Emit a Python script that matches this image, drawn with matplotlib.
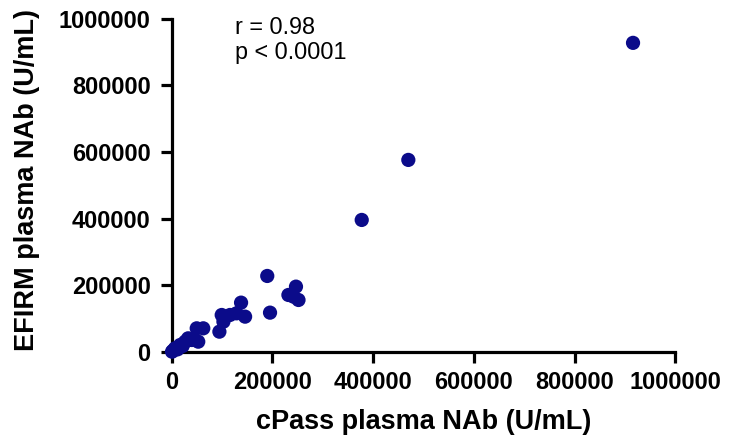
import matplotlib
matplotlib.use("Agg")
import matplotlib.pyplot as plt
import numpy as np

# cPass vs EFIRM plasma neutralizing antibody (U/mL)
cpass = [916000, 470000, 377500, 190000, 195500, 247000, 232000, 252000, 242000,
         138000, 146000, 99600, 116000, 129000, 95000, 103000, 63000, 50000,
         53000, 40000, 27000, 17000, 7000, 1000, 33000, 45000, 22000, 12000, 3000]
efirm = [927000, 576000, 396000, 228000, 118000, 196000, 171000, 156000, 166000,
         148000, 106000, 111000, 111000, 116000, 61000, 91000, 71000, 71000,
         31000, 36000, 31000, 21000, 11000, 1000, 41000, 38000, 18000, 8000, 4000]
ticks = [0, 200000, 400000, 600000, 800000, 1000000]

NAVY = "#0b0b8a"

plt.rcParams.update({
    "font.family": ["Liberation Sans", "DejaVu Sans"],
})

fig = plt.figure(figsize=(7.29, 4.44), dpi=100)
ax = fig.add_axes([0.2353, 0.2072, 0.6911, 0.7511])

ax.scatter(cpass, efirm, s=105, color=NAVY, edgecolor="none", zorder=3, clip_on=False)

ax.set_xlim(0, 1000000)
ax.set_ylim(0, 1000000)
ax.set_xticks(ticks)
ax.set_yticks(ticks)
ax.set_xticklabels([str(t) for t in ticks], fontsize=17, fontweight="bold")
ax.set_yticklabels([str(t) for t in ticks], fontsize=17, fontweight="bold")
ax.tick_params(width=2.3, length=8, color="black")
ax.tick_params(axis="x", pad=6)
ax.tick_params(axis="y", pad=7)

for side in ["top", "right"]:
    ax.spines[side].set_visible(False)
for side in ["left", "bottom"]:
    ax.spines[side].set_linewidth(2.3)

fig.text(424 / 729, 1 - 422 / 444, "cPass plasma NAb (U/mL)", fontsize=19.5,
         fontweight="bold", ha="center", va="center")
fig.text(27 / 729, 1 - 180 / 444, "EFIRM plasma NAb (U/mL)", fontsize=19.5,
         fontweight="bold", ha="center", va="center", rotation=90)

fig.text(235 / 729, 1 - 27 / 444, "r = 0.98", fontsize=16.8, va="center", ha="left")
fig.text(235 / 729, 1 - 53 / 444, "p < 0.0001", fontsize=16.8, va="center", ha="left")

fig.savefig("out.png", dpi=100)
